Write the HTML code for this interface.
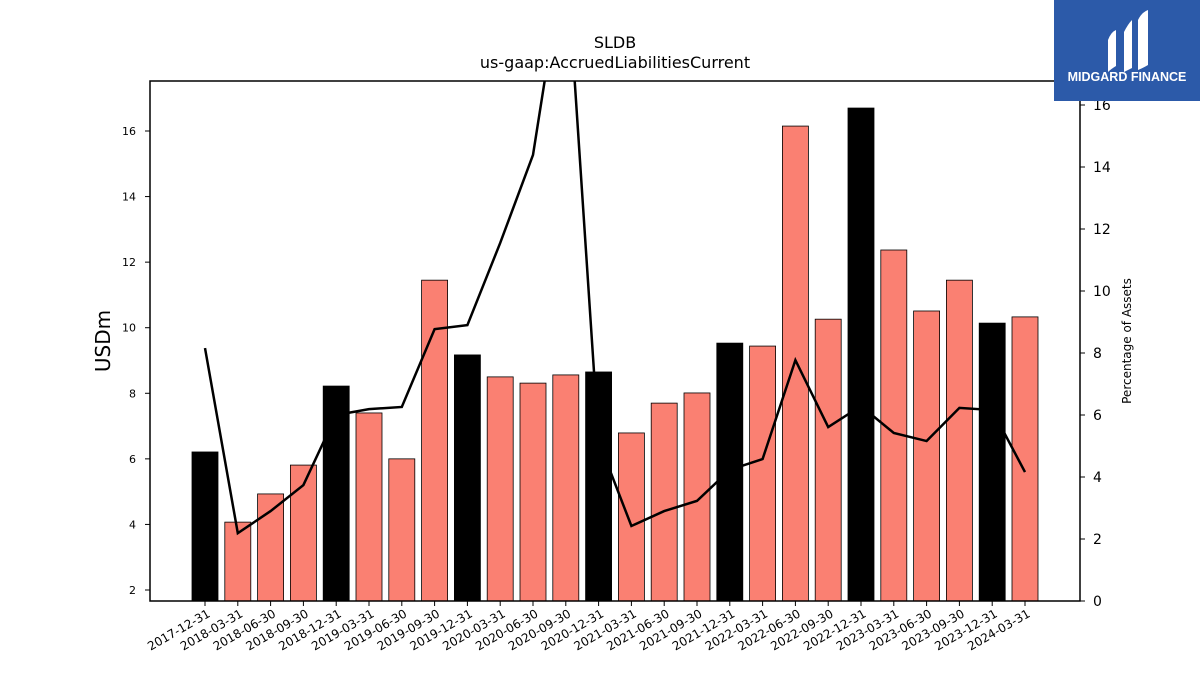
<!DOCTYPE html>
<html><head><meta charset="utf-8"><style>
body{margin:0;background:#fff;font-family:"Liberation Sans","DejaVu Sans",sans-serif}
</style></head><body>
<svg id="c" width="1200" height="675" xmlns="http://www.w3.org/2000/svg" font-family="'DejaVu Sans','Liberation Sans',sans-serif">
<defs><clipPath id="pc"><rect x="150" y="81" width="930" height="520"/></clipPath></defs>
<text x="615" y="48" font-size="16" text-anchor="middle">SLDB</text>
<text x="615" y="68" font-size="16" text-anchor="middle">us-gaap:AccruedLiabilitiesCurrent</text>
<g id="bars"></g><g id="line" clip-path="url(#pc)"></g><g id="axes"></g>
<rect x="150" y="81" width="930" height="520" fill="none" stroke="#000" stroke-width="1.5"/>
<text transform="translate(110,341) rotate(-90)" font-size="20" text-anchor="middle">USDm</text>
<text transform="translate(1131,341) rotate(-90)" font-size="12" text-anchor="middle">Percentage of Assets</text>
<g>
<rect x="1054" y="0" width="146" height="101" fill="#2c5aa9"/>
<path d="M1108 40 q3-8 8-10 v36 q-5 3-8 6z M1124 32 q4-8 8-12 v30 l-4 -6 l-4 6z M1124 50 l4-6 4 6 v18 q-4 2-8 4z M1138 20 q4-8 10-10 v55 q-5 3-10 5z" fill="#fff"/>
<text x="1127" y="81" font-size="12.5" font-weight="bold" fill="#fff" text-anchor="middle" font-family="'Liberation Sans',sans-serif">MIDGARD FINANCE</text>
</g>
</svg>
<script>
const categories=["2017-12-31","2018-03-31","2018-06-30","2018-09-30","2018-12-31","2019-03-31","2019-06-30","2019-09-30","2019-12-31","2020-03-31","2020-06-30","2020-09-30","2020-12-31","2021-03-31","2021-06-30","2021-09-30","2021-12-31","2022-03-31","2022-06-30","2022-09-30","2022-12-31","2023-03-31","2023-06-30","2023-09-30","2023-12-31","2024-03-31"];
const barValues=[6.21,4.07,4.93,5.81,8.22,7.40,6.0,11.45,9.17,8.50,8.31,8.56,8.65,6.79,7.70,8.01,9.53,9.44,16.15,10.26,16.70,12.37,10.51,11.45,10.14,10.33];
const pctValues=[8.16,2.19,2.90,3.74,6.0,6.19,6.26,8.77,8.90,11.55,14.39,21.1,5.16,2.42,2.90,3.23,4.23,4.58,7.77,5.61,6.29,5.42,5.16,6.23,6.16,4.16];
const leftTicks=[2,4,6,8,10,12,14,16];
const rightTicks=[0,2,4,6,8,10,12,14,16];
const NS="http://www.w3.org/2000/svg";
const yL=v=>590-(v-2)*32.786;
const yR=v=>601-v*31;
const xC=i=>205+i*32.8;
function mk(t,a,p){const e=document.createElementNS(NS,t);for(const k in a)e.setAttribute(k,a[k]);p.appendChild(e);return e;}
const gb=document.getElementById('bars'),gl=document.getElementById('line'),ga=document.getElementById('axes');
categories.forEach((c,i)=>{
 const black=(c.endsWith("12-31"));
 const r=mk('rect',{x:xC(i)-13,y:yL(barValues[i]),width:26,height:601-yL(barValues[i]),fill:black?'#000':'#fa8072',stroke:'#000','stroke-width':0.8},gb);
 
 
 const t=mk('line',{x1:xC(i),x2:xC(i),y1:601,y2:606,stroke:'#000'},ga);
 
 
 const tx=mk('text',{'font-size':12,'text-anchor':'end',transform:`translate(${xC(i)+6},616) rotate(-30)`},ga);
 tx.textContent=c;
 
 
});
const pl=mk('polyline',{points:pctValues.map((v,i)=>xC(i)+','+yR(v)).join(' '),fill:'none',stroke:'#000','stroke-width':2.5},gl);


leftTicks.forEach(v=>{
 const l=mk('line',{x1:145,x2:150,y1:yL(v),y2:yL(v),stroke:'#000'},ga);
 
 
 const t=mk('text',{x:136,y:yL(v)+4,'font-size':11,'text-anchor':'end'},ga);t.textContent=v;
 
 
});
rightTicks.forEach(v=>{
 const l=mk('line',{x1:1080,x2:1085,y1:yR(v),y2:yR(v),stroke:'#000'},ga);
 
 
 const t=mk('text',{x:1093,y:yR(v)+5,'font-size':14},ga);t.textContent=v;
 
 
});
</script>
</body></html>
